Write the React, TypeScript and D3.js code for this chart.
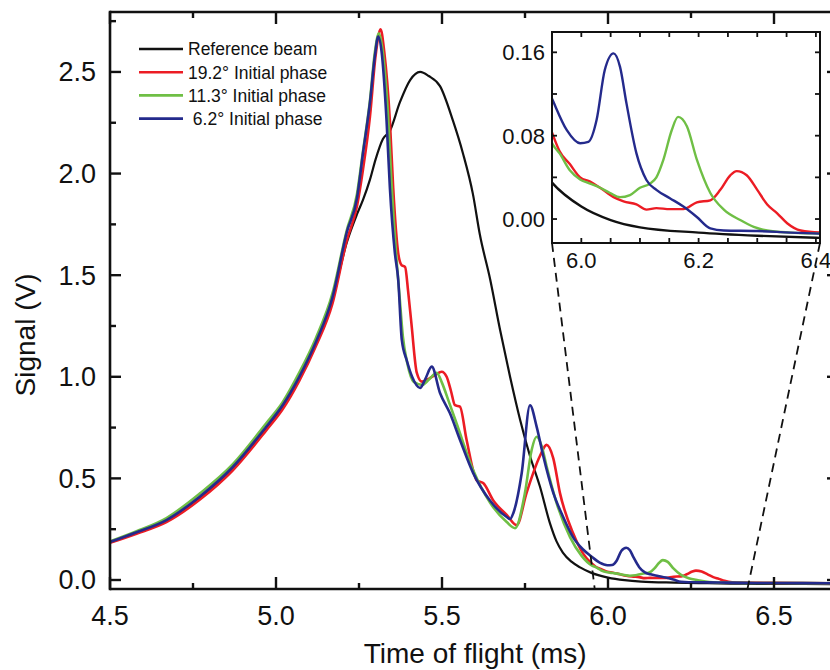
import React from "react";
import * as d3 from "d3";

// ---------- data ----------
const timeBlack = [4.5,4.58,4.67,4.77,4.87,4.97,5.02,5.07,5.12,5.17,5.213,5.244,5.262,5.283,5.30,5.322,5.343,5.373,5.404,5.434,5.46,5.494,5.533,5.563,5.593,5.614,5.645,5.675,5.705,5.735,5.765,5.795,5.825,5.845,5.864,5.89,5.916,5.95,6.0,6.05,6.1,6.2,6.3,6.4,6.5,6.7];
const sigBlack = [0.185,0.232,0.29,0.40,0.55,0.745,0.85,0.99,1.16,1.38,1.66,1.80,1.87,1.97,2.07,2.17,2.21,2.35,2.46,2.50,2.48,2.43,2.26,2.10,1.90,1.70,1.48,1.23,1.0,0.79,0.61,0.46,0.28,0.19,0.135,0.09,0.062,0.035,0.012,-0.001,-0.008,-0.013,-0.016,-0.018,-0.019,-0.02];

const timeRed = [4.5,4.58,4.67,4.77,4.87,4.97,5.02,5.07,5.12,5.17,5.213,5.244,5.262,5.283,5.30,5.315,5.326,5.343,5.353,5.368,5.378,5.389,5.398,5.408,5.424,5.439,5.46,5.48,5.499,5.514,5.527,5.539,5.554,5.574,5.605,5.624,5.655,5.695,5.725,5.755,5.795,5.815,5.835,5.855,5.895,5.925,5.952,5.963,5.98,5.998,6.015,6.032,6.055,6.072,6.094,6.111,6.128,6.151,6.174,6.197,6.22,6.237,6.254,6.265,6.282,6.3,6.317,6.334,6.351,6.374,6.408,6.5,6.7];
const sigRed = [0.183,0.228,0.285,0.395,0.54,0.735,0.84,0.98,1.15,1.36,1.67,1.84,2.02,2.28,2.58,2.71,2.6,2.26,1.93,1.61,1.55,1.54,1.42,1.26,1.02,0.976,0.99,1.01,1.025,1.0,0.93,0.86,0.853,0.69,0.49,0.477,0.39,0.32,0.27,0.43,0.61,0.665,0.6,0.43,0.23,0.13,0.08,0.065,0.053,0.04,0.036,0.03,0.021,0.017,0.014,0.009,0.0105,0.0095,0.0095,0.016,0.018,0.028,0.042,0.046,0.042,0.028,0.014,0.0055,-0.004,-0.011,-0.013,-0.014,-0.016];

const timeGreen = [4.5,4.58,4.67,4.77,4.87,4.97,5.02,5.07,5.12,5.17,5.213,5.244,5.262,5.283,5.298,5.31,5.32,5.337,5.348,5.362,5.372,5.382,5.395,5.415,5.44,5.46,5.484,5.5,5.52,5.544,5.594,5.645,5.695,5.72,5.75,5.77,5.785,5.80,5.815,5.845,5.886,5.92,5.952,5.963,5.98,5.998,6.015,6.032,6.049,6.066,6.083,6.1,6.117,6.128,6.14,6.154,6.165,6.18,6.197,6.22,6.243,6.271,6.294,6.317,6.357,6.408,6.5,6.7];
const sigGreen = [0.19,0.24,0.305,0.425,0.57,0.77,0.875,1.02,1.19,1.41,1.72,1.90,2.11,2.36,2.6,2.69,2.62,2.3,1.95,1.6,1.4,1.2,1.07,0.975,0.96,0.985,1.02,0.97,0.88,0.77,0.54,0.38,0.285,0.255,0.43,0.64,0.705,0.66,0.56,0.38,0.21,0.12,0.071,0.063,0.047,0.038,0.034,0.03,0.025,0.021,0.023,0.03,0.034,0.04,0.057,0.085,0.098,0.089,0.057,0.025,0.009,-0.001,-0.0075,-0.011,-0.013,-0.014,-0.015,-0.016];

const timeBlue = [4.5,4.58,4.67,4.77,4.87,4.97,5.02,5.07,5.12,5.17,5.213,5.244,5.262,5.283,5.298,5.308,5.318,5.333,5.343,5.358,5.368,5.379,5.394,5.41,5.434,5.45,5.469,5.494,5.524,5.554,5.594,5.645,5.695,5.705,5.715,5.74,5.765,5.785,5.805,5.835,5.865,5.895,5.925,5.952,5.975,5.998,6.012,6.026,6.04,6.055,6.066,6.077,6.094,6.111,6.128,6.151,6.174,6.197,6.22,6.243,6.3,6.357,6.408,6.5,6.7];
const sigBlue = [0.187,0.235,0.295,0.41,0.556,0.753,0.86,1.0,1.17,1.39,1.71,1.88,2.10,2.35,2.58,2.674,2.6,2.26,1.93,1.61,1.48,1.18,1.08,1.0,0.945,0.99,1.05,0.92,0.82,0.69,0.526,0.39,0.31,0.30,0.33,0.525,0.86,0.755,0.61,0.43,0.31,0.21,0.15,0.113,0.0855,0.0727,0.074,0.095,0.143,0.159,0.146,0.111,0.063,0.0375,0.028,0.02,0.012,0.002,-0.009,-0.011,-0.0115,-0.013,-0.014,-0.015,-0.016];

const seriesNames = ["Reference beam", "19.2\u00B0 Initial phase", "11.3\u00B0 Initial phase", "\u00A06.2\u00B0 Initial phase"];
const seriesColors = ["#111111", "#ec1c24", "#6fbf45", "#242a8c"];

const xTickLabels = ["4.5", "5.0", "5.5", "6.0", "6.5"];
const yTickLabels = ["0.0", "0.5", "1.0", "1.5", "2.0", "2.5"];
const insetXTickLabels = ["6.0", "6.2", "6.4"];
const insetYTickLabels = ["0.00", "0.08", "0.16"];
const zoomFrom = [5.96, 6.42];

const FONT = "'Liberation Sans', Arial, Helvetica, sans-serif";

export default function App() {
  const L = 110, R = 837, T = 12, B = 589;
  const x = d3.scaleLinear().domain([4.5, 6.5]).range([110, 774]);
  const y = d3.scaleLinear().domain([-0.0443, 2.795]).range([589, 12]);

  const iL = 552, iR = 820, iT = 32, iB = 243;
  const xi = d3.scaleLinear().domain([5.95, 6.407]).range([iL, iR]);
  const yi = d3.scaleLinear().domain([-0.023, 0.1795]).range([iB, iT]);

  const series = [
    { t: timeBlack, v: sigBlack },
    { t: timeRed, v: sigRed },
    { t: timeGreen, v: sigGreen },
    { t: timeBlue, v: sigBlue },
  ];

  const mkLine = (sx: any, sy: any) =>
    d3.line<[number, number]>().x(d => sx(d[0])).y(d => sy(d[1])).curve(d3.curveMonotoneX);
  const mainLine = mkLine(x, y);
  const insetLine = mkLine(xi, yi);

  const xMajors = d3.range(0, 6).map(i => 4.5 + i * 0.5);
  const xMinors = d3.range(0, 5).map(i => 4.75 + i * 0.5);
  const yMajors = d3.range(0, 6).map(i => i * 0.5);
  const yMinors = d3.range(0, 6).map(i => 0.25 + i * 0.5);

  const insetXT = d3.range(0, 9).map(i => 6.0 + i * 0.05);
  const insetYT = d3.range(0, 5).map(i => i * 0.04);

  const widths = [2.2, 2.6, 2.6, 2.6];

  return (
    <svg width={830} height={670} style={{ position: "absolute", left: 0, top: 0, background: "#fff" }} fontFamily={FONT}>
      <defs>
        <clipPath id="mainClip"><rect x={L} y={T} width={R - L} height={B - T} /></clipPath>
        <clipPath id="insetClip"><rect x={iL} y={iT} width={iR - iL} height={iB - iT} /></clipPath>
      </defs>

      {/* main curves */}
      <g clipPath="url(#mainClip)">
        {series.map((s, k) => (
          <path key={k} d={mainLine(s.t.map((t, i) => [t, s.v[i]] as [number, number])) || ""}
            fill="none" stroke={seriesColors[k]} strokeWidth={widths[k]} strokeLinejoin="round" />
        ))}
      </g>

      {/* frame */}
      <g stroke="#111" strokeWidth={2.6} fill="none">
        <line x1={L} y1={T} x2={R} y2={T} />
        <line x1={L} y1={B} x2={R} y2={B} />
        <line x1={L} y1={T - 1.3} x2={L} y2={B + 1.3} />
        <line x1={R} y1={T} x2={R} y2={B} />
      </g>
      {/* ticks */}
      <g stroke="#111" strokeWidth={2.4}>
        {xMajors.map((v, i) => (
          <g key={"xm" + i}>
            <line x1={x(v)} x2={x(v)} y1={B} y2={B - 12} />
            <line x1={x(v)} x2={x(v)} y1={T} y2={T + 12} />
          </g>
        ))}
        {xMinors.map((v, i) => (
          <g key={"xn" + i}>
            <line x1={x(v)} x2={x(v)} y1={B} y2={B - 6} />
            <line x1={x(v)} x2={x(v)} y1={T} y2={T + 6} />
          </g>
        ))}
        {yMajors.map((v, i) => (
          <g key={"ym" + i}>
            <line x1={L} x2={L + 11} y1={y(v)} y2={y(v)} />
            <line x1={R} x2={R - 10} y1={y(v)} y2={y(v)} />
          </g>
        ))}
        {yMinors.map((v, i) => (
          <g key={"yn" + i}>
            <line x1={L} x2={L + 6} y1={y(v)} y2={y(v)} />
            <line x1={R} x2={R - 6} y1={y(v)} y2={y(v)} />
          </g>
        ))}
      </g>
      {/* tick labels */}
      <g fontSize={27} fill="#111">
        {xTickLabels.map((lab, i) => (
          <text key={lab} x={x(xMajors[i])} y={625} textAnchor="middle">{lab}</text>
        ))}
        {yTickLabels.map((lab, i) => (
          <text key={lab} x={96} y={y(yMajors[i]) + 9.5} textAnchor="end">{lab}</text>
        ))}
      </g>
      <text x={x(5.6)} y={663} textAnchor="middle" fontSize={28} fill="#111">Time of flight (ms)</text>
      <text transform={`translate(35,335) rotate(-90)`} textAnchor="middle" fontSize={28} fill="#111">Signal (V)</text>

      {/* legend */}
      <g fontSize={17.5} fill="#111">
        {seriesNames.map((name, k) => {
          const ly = 49 + k * 23.2;
          return (
            <g key={k}>
              <line x1={139} x2={183} y1={ly} y2={ly} stroke={seriesColors[k]} strokeWidth={2.6} />
              <text x={188} y={ly + 6.3} style={{ whiteSpace: "pre" }}>{name}</text>
            </g>
          );
        })}
      </g>

      {/* inset */}
      <rect x={iL} y={iT} width={iR - iL} height={iB - iT} fill="#fff" stroke="none" />
      <g clipPath="url(#insetClip)">
        {series.map((s, k) => (
          <path key={k} d={insetLine(s.t.map((t, i) => [t, s.v[i]] as [number, number])) || ""}
            fill="none" stroke={seriesColors[k]} strokeWidth={2.4} strokeLinejoin="round" />
        ))}
      </g>
      <rect x={iL} y={iT} width={iR - iL} height={iB - iT} fill="none" stroke="#111" strokeWidth={2} />
      <g stroke="#111" strokeWidth={1.8}>
        {insetXT.map((v, i) => (
          <g key={"ix" + i}>
            <line x1={xi(v)} x2={xi(v)} y1={iB} y2={iB - 5} />
            <line x1={xi(v)} x2={xi(v)} y1={iT} y2={iT + 5} />
          </g>
        ))}
        {insetYT.map((v, i) => (
          <g key={"iy" + i}>
            <line x1={iL} x2={iL + 5} y1={yi(v)} y2={yi(v)} />
            <line x1={iR} x2={iR - 5} y1={yi(v)} y2={yi(v)} />
          </g>
        ))}
      </g>
      <g fontSize={22} fill="#111">
        {insetXTickLabels.map((lab) => (
          <text key={lab} x={xi(+lab)} y={268} textAnchor="middle">{lab}</text>
        ))}
        {insetYTickLabels.map((lab) => (
          <text key={lab} x={545} y={yi(+lab) + 8} textAnchor="end">{lab}</text>
        ))}
      </g>

      {/* zoom callout */}
      <g stroke="#111" strokeWidth={1.8} strokeDasharray="9,6" fill="none">
        <line x1={iL} y1={iB} x2={x(zoomFrom[0])} y2={B} />
        <line x1={iR} y1={iB} x2={x(zoomFrom[1])} y2={B} />
      </g>
    </svg>
  );
}
